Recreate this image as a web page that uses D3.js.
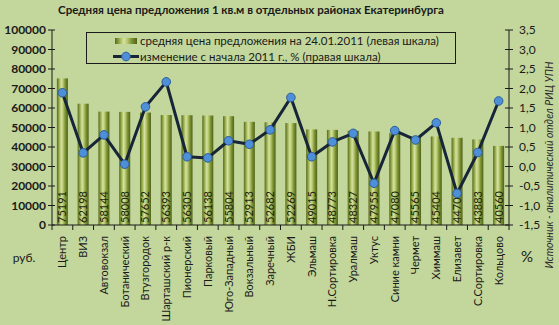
<!DOCTYPE html>
<html><head><meta charset="utf-8">
<script src="https://cdn.jsdelivr.net/npm/d3@7"></script>
<style>
html,body{margin:0;padding:0;background:#c3d69b;}
svg{display:block;font-family:Lato, "Open Sans", sans-serif;}
</style></head>
<body>
<svg id="c" width="559" height="325"></svg>
<script>
const categories = ["Центр","ВИЗ","Автовокзал","Ботанический","Втузгородок","Шарташский р-к","Пионерский","Парковый","Юго-Западный","Вокзальный","Заречный","ЖБИ","Эльмаш","Н.Сортировка","Уралмаш","Уктус","Синие камни","Чермет","Химмаш","Елизавет","С.Сортировка","Кольцово"];
const prices = [75191,62198,58144,58008,57652,56393,56305,56138,55804,52913,52682,52269,49015,48773,48327,47955,47080,45565,45404,44700,43883,40560];
const changes = [1.89,0.35,0.81,0.06,1.53,2.17,0.25,0.22,0.66,0.57,0.94,1.77,0.25,0.63,0.85,-0.43,0.92,0.68,1.12,-0.69,0.36,1.68];
const leftTicks = [0,10000,20000,30000,40000,50000,60000,70000,80000,90000,100000];
const rightTicks = [-1.5,-1.0,-0.5,0.0,0.5,1.0,1.5,2.0,2.5,3.0,3.5];
const title = "Средняя цена предложения 1 кв.м в отдельных районах Екатеринбурга";
const legendLabels = ["средняя цена предложения на 24.01.2011 (левая шкала)","изменение с начала 2011 г., % (правая шкала)"];
const sourceText = "Источник - аналитический отдел РИЦ УПН";

const svg = d3.select("#c");
const L = 52, R = 509, T = 30, B = 225;
const x = d3.scaleBand().domain(categories).range([L, R]).paddingInner(0).paddingOuter(0);
const yL = d3.scaleLinear().domain([0,100000]).range([B, T]);
const yR = d3.scaleLinear().domain([-1.5,3.5]).range([B, T]);
const ink = "#1a1a1a";

const defs = svg.append("defs");
const g = defs.append("linearGradient").attr("id","bar").attr("x1","0").attr("x2","1").attr("y1","0").attr("y2","0");
[[0,"#55691c"],[0.22,"#9db252"],[0.4,"#d6e2a2"],[0.55,"#b8ca72"],[0.75,"#7e9434"],[1,"#4e6218"]].forEach(s=>g.append("stop").attr("offset",s[0]).attr("stop-color",s[1]));

svg.append("rect").attr("width",559).attr("height",325).attr("fill","#c3d69b");

// title
svg.append("text").attr("x",251).attr("y",14).attr("text-anchor","middle")
  .attr("font-size",11.5).attr("font-weight","bold").attr("fill",ink).text(title);

// bars
const bw = x.bandwidth()*0.53;
svg.append("g").selectAll("rect").data(prices).join("rect")
  .attr("x",(d,i)=>x(categories[i])+x.bandwidth()/2-bw/2)
  .attr("y",d=>yL(d)).attr("width",bw).attr("height",d=>B-yL(d))
  .attr("fill","url(#bar)");

// bar labels
svg.append("g").selectAll("text").data(prices).join("text")
  .attr("transform",(d,i)=>`translate(${x(categories[i])+x.bandwidth()/2},${B-2}) rotate(-90)`)
  .attr("dy","0.36em").attr("font-size",11).attr("fill","#20260e").text(d=>d);

// axes
const axL = d3.axisLeft(yL).tickValues(leftTicks).tickSize(0).tickPadding(6).tickFormat(d3.format("d"));
const gl = svg.append("g").attr("transform",`translate(${L},0)`).call(axL);
gl.select(".domain").remove();
gl.selectAll("text").attr("font-size",12).attr("font-weight","bold").attr("fill",ink).attr("font-family","Lato");
svg.append("line").attr("x1",L).attr("x2",L).attr("y1",T).attr("y2",B).attr("stroke",ink).attr("stroke-width",1);
svg.append("g").selectAll("line").data(leftTicks).join("line")
  .attr("x1",L-4).attr("x2",L+3).attr("y1",d=>yL(d)).attr("y2",d=>yL(d)).attr("stroke",ink);

const fmt = d=>d.toFixed(1).replace(".",",");
const axR = d3.axisRight(yR).tickValues(rightTicks).tickSize(0).tickPadding(10).tickFormat(fmt);
const gr = svg.append("g").attr("transform",`translate(${R},0)`).call(axR);
gr.select(".domain").remove();
gr.selectAll("text").attr("font-size",12).attr("fill",ink).attr("font-family","Lato");
svg.append("line").attr("x1",R).attr("x2",R).attr("y1",T).attr("y2",B).attr("stroke",ink);
svg.append("g").selectAll("line").data(rightTicks).join("line")
  .attr("x1",R-4).attr("x2",R+4).attr("y1",d=>yR(d)).attr("y2",d=>yR(d)).attr("stroke",ink);

// x axis
svg.append("line").attr("x1",L).attr("x2",R).attr("y1",B).attr("y2",B).attr("stroke",ink);
const bounds = categories.map(c=>x(c)).concat([R]);
svg.append("g").selectAll("line").data(bounds).join("line")
  .attr("x1",d=>d).attr("x2",d=>d).attr("y1",B).attr("y2",B+5).attr("stroke",ink);
svg.append("g").selectAll("text").data(categories).join("text")
  .attr("transform",d=>`translate(${x(d)+x.bandwidth()/2},${B+11}) rotate(-90)`)
  .attr("text-anchor","end").attr("dy","0.36em").attr("font-size",11).attr("fill",ink).text(d=>d);

// line
const line = d3.line().x((d,i)=>x(categories[i])+x.bandwidth()/2).y(d=>yR(d));
svg.append("path").datum(changes).attr("d",line).attr("fill","none")
  .attr("stroke","#172538").attr("stroke-width",3).attr("stroke-linejoin","round");
svg.append("g").selectAll("circle").data(changes).join("circle")
  .attr("cx",(d,i)=>x(categories[i])+x.bandwidth()/2).attr("cy",d=>yR(d)).attr("r",4.3)
  .attr("fill","#4f8fd8").attr("stroke","#2a5d9a").attr("stroke-width",1);

// legend
svg.append("rect").attr("x",86.5).attr("y",32.5).attr("width",369).attr("height",31)
  .attr("fill","#c3d69b").attr("stroke",ink).attr("stroke-width",1);
svg.append("rect").attr("x",115).attr("y",38).attr("width",22).attr("height",6).attr("fill","url(#bar)");
svg.append("line").attr("x1",113).attr("x2",139).attr("y1",56.5).attr("y2",56.5).attr("stroke","#172538").attr("stroke-width",3);
svg.append("circle").attr("cx",126).attr("cy",56.5).attr("r",4.3).attr("fill","#4f8fd8").attr("stroke","#2a5d9a");
svg.append("text").attr("x",140).attr("y",45).attr("font-size",11.5).attr("fill",ink).text(legendLabels[0]);
svg.append("text").attr("x",140).attr("y",61).attr("font-size",11.5).attr("fill",ink).text(legendLabels[1]);

// units
svg.append("text").attr("x",24).attr("y",262).attr("text-anchor","middle").attr("font-size",12).attr("fill",ink).text("руб.");
svg.append("text").attr("x",527).attr("y",262).attr("text-anchor","middle").attr("font-size",15).attr("fill",ink).text("%");

// source
svg.append("text").attr("transform","translate(549,165) rotate(-90)").attr("text-anchor","middle").attr("dy","0.36em")
  .attr("font-size",10.5).attr("font-style","italic").attr("fill","#2a2a2a").text(sourceText);
</script>
</body></html>
